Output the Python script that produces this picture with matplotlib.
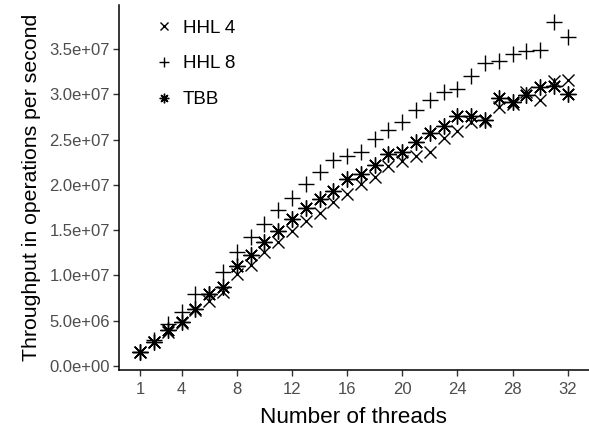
import numpy as np
import matplotlib
matplotlib.use("Agg")
import matplotlib.pyplot as plt
from matplotlib.ticker import FuncFormatter

plt.rcParams['font.family'] = ['Liberation Sans', 'DejaVu Sans']

# Threads and throughput (ops per second)
threads = np.arange(1, 33)

hhl4 = np.array([1.6, 2.6, 3.8, 4.8, 6.2, 7.2, 8.2, 10.2, 11.1, 12.6, 13.7, 14.9,
                 16.0, 16.9, 18.1, 19.0, 20.1, 20.9, 22.1, 22.6, 23.2, 23.6, 25.2, 25.9,
                 26.9, 27.0, 28.6, 28.9, 30.2, 29.4, 31.5, 31.6]) * 1e6

hhl8 = np.array([1.6, 2.9, 4.6, 6.0, 7.9, 8.0, 10.4, 12.6, 14.2, 15.7, 17.2, 18.6,
                 20.1, 21.4, 22.8, 23.2, 23.6, 25.1, 26.1, 26.9, 28.3, 29.4, 30.3, 30.6,
                 32.0, 33.5, 33.7, 34.5, 34.8, 34.9, 38.0, 36.3]) * 1e6

tbb = np.array([1.6, 2.7, 4.0, 4.9, 6.3, 8.0, 8.7, 11.0, 12.3, 13.7, 14.9, 16.2,
                17.4, 18.4, 19.3, 20.6, 21.2, 22.2, 23.4, 23.6, 24.7, 25.7, 26.5, 27.6,
                27.6, 27.2, 29.6, 29.1, 29.9, 30.8, 30.9, 30.0]) * 1e6

xticks = [1, 4, 8, 12, 16, 20, 24, 28, 32]

fig = plt.figure(figsize=(5.89, 4.30), dpi=100)
ax = fig.add_axes([119/589, 60/430, 470/589, 365/430])

ax.plot(threads, hhl4, ls='none', marker='x', ms=8.5, mew=1.0, color='black', label='HHL 4')
ax.plot(threads, hhl8, ls='none', marker='+', ms=11.5, mew=1.0, color='black', label='HHL 8')
ax.plot(threads, tbb, ls='none', marker=(8, 2, 0), ms=11.5, mew=1.0, color='black', label='TBB')

ax.set_xlim(-0.55, 33.55)
ax.set_ylim(-0.44e6, 39.86e6)
ax.set_xticks(xticks)
ax.set_yticks(np.arange(0, 3.6e7, 5e6))
ax.yaxis.set_major_formatter(FuncFormatter(lambda v, p: '{:.1e}'.format(v)))

for s in ['top', 'right']:
    ax.spines[s].set_visible(False)
for s in ['left', 'bottom']:
    ax.spines[s].set_linewidth(1.1)
ax.tick_params(axis='both', length=4, width=1, color='#333333',
               labelcolor='#4D4D4D', labelsize=12)
ax.tick_params(axis='x', pad=5)
ax.tick_params(axis='y', pad=2.5)

ax.set_xlabel('Number of threads', fontsize=16.2, labelpad=7)
ax.set_ylabel('Throughput in operations per second', fontsize=15.3, labelpad=6)

leg = ax.legend(loc='upper left', bbox_to_anchor=(147/589, 1 - 12/430),
                bbox_transform=fig.transFigure, frameon=False, fontsize=13.5,
                markerscale=0.6, handlelength=1.0, handletextpad=0.5,
                labelspacing=1.0, borderaxespad=0)

fig.savefig('out.png', dpi=100)
